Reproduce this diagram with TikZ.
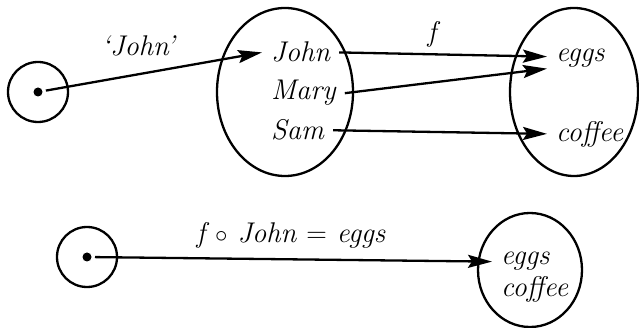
\documentclass[tikz,border=0pt]{standalone}
\usepackage{fontspec}
\usetikzlibrary{arrows.meta,shapes.geometric}
\begin{document}
\begin{tikzpicture}[x=1pt,y=-1pt,line width=2.3pt,
  every node/.style={font=\itshape\fontsize{28.5}{31}\selectfont},
  elem/.style={inner xsep=8pt,inner ysep=0pt,anchor=base west},
  lbl/.style={inner sep=0pt,anchor=base},
  pointbox/.style={draw,circle,minimum size=60pt,inner sep=0pt},
  dotmark/.style={fill,circle,minimum size=9pt,inner sep=0pt},
  arr/.style={-{Stealth[length=24pt,width=13pt,inset=4pt]}}]
\useasboundingbox (0,0) rectangle (639,328);
% top row
\node[pointbox] (p1) at (38,92) {};
\node[dotmark] (d1) at (38,92) {};
\node[draw,ellipse,minimum width=136pt,minimum height=168pt,inner sep=0pt] (A) at (285,92) {};
\node[draw,ellipse,minimum width=128pt,minimum height=168pt,inner sep=0pt] (B) at (574,92) {};
\node[elem] (john) at (262,62) {John};
\node[elem] (mary) at (262,100) {Mary};
\node[elem] (sam) at (262,140) {Sam};
\node[elem] (eggs) at (547,62) {eggs};
\node[elem] (coffee) at (547,142) {coffee};
\node[lbl] (qjohn) at (138,56) {‘John’};
\node[lbl] (flab) at (432,42) {f};
\draw[arr,shorten <=8pt] (d1.center) -- (john.west);
\draw[arr] (john.east) -- ([yshift=2pt]eggs.west);
\draw[arr] (mary.east) -- ([yshift=-10pt]eggs.west);
\draw[arr] (sam.east) -- ([yshift=1pt]coffee.west);
% bottom row
\node[pointbox] (p2) at (87,257) {};
\node[dotmark] (d2) at (87,257) {};
\node[draw,ellipse,minimum width=104pt,minimum height=114pt,inner sep=0pt] (C) at (530,270) {};
\node[elem] (eggs2) at (492,265) {eggs};
\node[elem] (coffee2) at (492,296) {coffee};
\node[lbl] (comp) at (291,243) {f $\circ$ John {\upshape=} eggs};
\draw[arr,shorten <=8pt] (d2.center) -- (eggs2.west);
\end{tikzpicture}
\end{document}
